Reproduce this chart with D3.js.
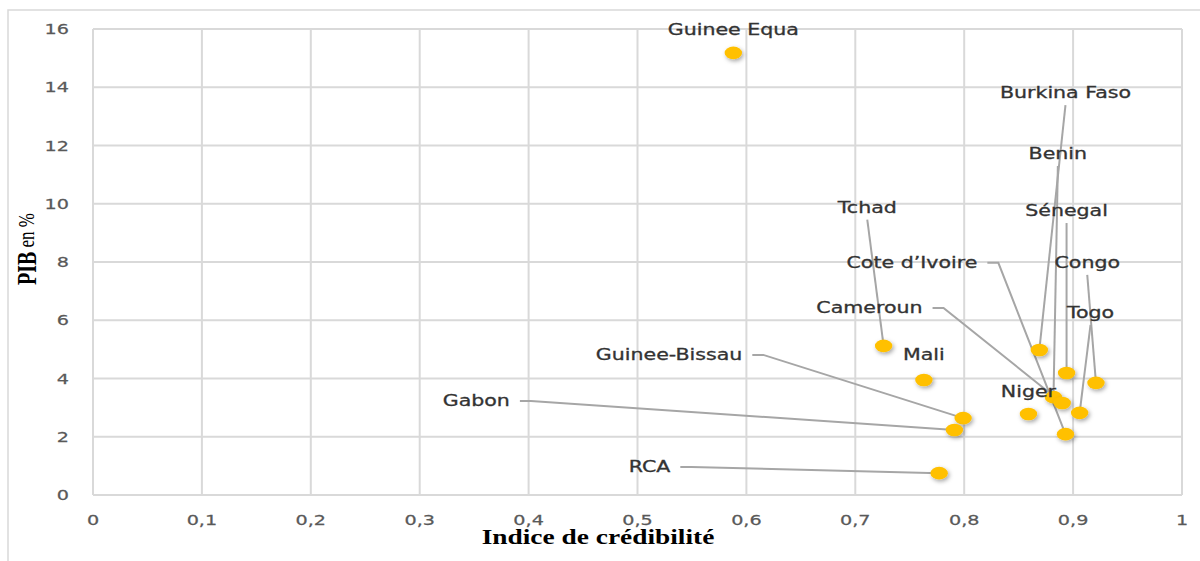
<!DOCTYPE html>
<html><head><meta charset="utf-8">
<script src="https://cdn.jsdelivr.net/npm/d3@7"></script>
<style>body{margin:0;background:#fff} svg{display:block}</style>
</head><body><svg id="chart" width="1200" height="561"></svg>
<script>
// ---- data ----
const countries = ["Guinee Equa","Tchad","Mali","Guinee-Bissau","Gabon","RCA","Burkina Faso","Sénegal","Congo","Benin","Cameroun","Niger","Togo","Cote d’Ivoire"];
const credibilite = [0.588,0.726,0.763,0.799,0.791,0.777,0.869,0.894,0.921,0.882,0.890,0.859,0.906,0.893];
const pib = [15.18,5.12,3.95,2.64,2.23,0.75,4.98,4.19,3.85,3.36,3.16,2.78,2.82,2.09];
const xTicks = [0,0.1,0.2,0.3,0.4,0.5,0.6,0.7,0.8,0.9,1];
const xTickLabels = ["0","0,1","0,2","0,3","0,4","0,5","0,6","0,7","0,8","0,9","1"];
const yTicks = [0,2,4,6,8,10,12,14,16];
const yTickLabels = ["0","2","4","6","8","10","12","14","16"];
// data-label anchors (in data units) and leader style
const labelX = [0.588,0.711,0.763,0.529,0.352,0.511,0.893,0.894,0.913,0.886,0.713,0.859,0.916,0.752];
const labelY = [15.97,9.87,4.81,4.81,3.23,0.96,13.80,9.75,7.97,11.71,6.42,3.54,6.25,7.97];
const leaderType = ["none","above","none","left","left","left","above","above","above","above","left","none","above","left"];
const xTitle = "Indice de crédibilité";

// ---- layout ----
const SX = 1.37;
const svg = d3.select("#chart");
const x = d3.scaleLinear().domain([0,1]).range([93,1182]);
const y = d3.scaleLinear().domain([0,16]).range([495,29]);
const grid = "#d9d9d9";

svg.append("rect").attr("x",8).attr("y",10).attr("width",1200).attr("height",560)
  .attr("fill","#fff").attr("stroke",grid).attr("stroke-width",1.5);

const defs = svg.append("defs");
const f = defs.append("filter").attr("id","sh").attr("x","-50%").attr("y","-50%").attr("width","200%").attr("height","200%");
f.append("feDropShadow").attr("dx",1.5).attr("dy",2).attr("stdDeviation",2).attr("flood-color","#000").attr("flood-opacity",0.35);

const g = svg.append("g");
g.selectAll("line.vx").data(xTicks).join("line").attr("class","vx")
  .attr("x1",d=>x(d)).attr("x2",d=>x(d)).attr("y1",y(16)).attr("y2",y(0))
  .attr("stroke",grid).attr("stroke-width",2);
g.selectAll("line.hy").data(yTicks).join("line").attr("class","hy")
  .attr("x1",x(0)).attr("x2",x(1)).attr("y1",d=>y(d)).attr("y2",d=>y(d))
  .attr("stroke",grid).attr("stroke-width",2);

function place(sel, px, py){ return sel.attr("transform",`translate(${px},${py}) scale(${SX},1)`); }

// tick labels
xTicks.forEach((t,i)=>{
  place(svg.append("text").text(xTickLabels[i]).attr("text-anchor","middle").attr("dominant-baseline","central")
    .attr("font-family","DejaVu Sans").attr("font-size",14).attr("fill","#595959")
    .attr("stroke","#595959").attr("stroke-width",0.25), x(t), 520);
});
yTicks.forEach((t,i)=>{
  place(svg.append("text").text(yTickLabels[i]).attr("text-anchor","end").attr("dominant-baseline","central")
    .attr("font-family","DejaVu Sans").attr("font-size",14).attr("fill","#595959")
    .attr("stroke","#595959").attr("stroke-width",0.25), 69, y(t));
});

// axis titles
place(svg.append("text").text(xTitle).attr("text-anchor","middle").attr("dominant-baseline","central")
  .attr("font-family","Liberation Serif").attr("font-weight","bold").attr("font-size",20).attr("fill","#000"), 598, 537);
const yt = svg.append("text").attr("text-anchor","middle").attr("dominant-baseline","central")
  .attr("font-family","Liberation Serif").attr("fill","#000")
  .attr("transform",`translate(27,249) rotate(-90) scale(1,${SX})`);
yt.append("tspan").text("PIB").attr("font-weight","bold").attr("font-size",20);
yt.append("tspan").text(" en %").attr("font-size",17).attr("dy",-1);

// labels (measure first)
const idx = d3.range(countries.length);
const labels = idx.map(i=>{
  const t = svg.append("text").text(countries[i]).attr("text-anchor","middle").attr("dominant-baseline","central")
    .attr("font-family","DejaVu Sans").attr("font-size",15).attr("fill","#333")
    .attr("stroke","#333").attr("stroke-width",0.3);
  place(t, x(labelX[i]), y(labelY[i]));
  return t;
});
// leaders
const leaders = svg.insert("g","text");
idx.forEach(i=>{
  const lx = x(labelX[i]), ly = y(labelY[i]);
  const px = x(credibilite[i]), py = y(pib[i]);
  let d = null;
  if (leaderType[i]==="above") d = `M${lx},${ly+12}L${px},${py}`;
  else if (leaderType[i]==="left") {
    const w = labels[i].node().getComputedTextLength()*SX;
    const sx = lx + w/2 + 10;
    d = `M${sx},${ly}h11L${px},${py}`;
  }
  if (d) leaders.append("path").attr("d",d).attr("fill","none").attr("stroke","#a6a6a6").attr("stroke-width",2);
});
// markers
const mk = svg.insert("g","text");
mk.selectAll("ellipse").data(idx).join("ellipse")
  .attr("cx",i=>x(credibilite[i])).attr("cy",i=>y(pib[i]))
  .attr("rx",8.7).attr("ry",6.3).attr("fill","#FFC000").attr("filter","url(#sh)");
</script></body></html>
